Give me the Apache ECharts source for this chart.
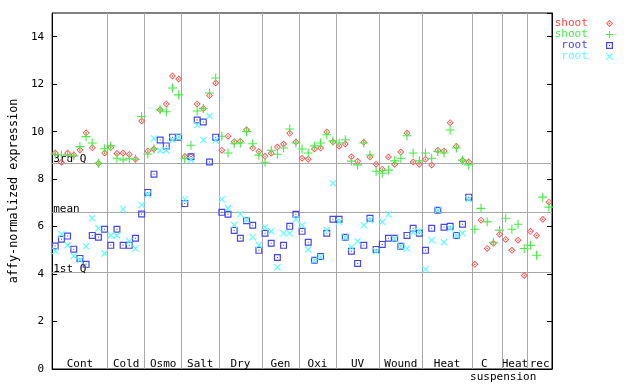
<!DOCTYPE html>
<html><head><meta charset="utf-8">
<script src="https://cdn.jsdelivr.net/npm/echarts@6/dist/echarts.min.js"></script>
<style>html,body{margin:0;padding:0;background:#fff}#c{width:640px;height:384px}</style>
</head><body><div id="c"></div>
<script>
// ---- data ----
const sectionNames = ['Cont','Cold','Osmo','Salt','Dry','Gen','Oxi','UV','Wound','Heat','C suspension','Heat','rec'];
const sectionSizes = [9,6,6,6,7,6,6,7,7,8,5,4,4];
const quartileNames = ['3rd Q','mean','1st Q'];
const quartileValues = [8.69, 6.60, 4.07];
const legendLabels = {shootA:'shoot', shootB:'shoot', rootA:'root', rootB:'root'};

const shootA = [9.10,8.71,9.10,9.02,9.23,9.95,9.32,8.67,9.10,
  9.33,9.08,9.10,9.04,8.84,10.45,
  9.19,9.27,10.92,11.17,12.35,12.22,
  8.95,8.95,11.17,10.98,11.52,12.05,
  9.22,9.81,9.58,9.60,10.08,9.31,9.16,
  8.96,9.09,9.35,9.48,9.93,9.56,
  8.88,8.84,9.27,9.31,9.99,9.56,
  9.39,9.48,8.94,8.75,9.55,8.93,8.63,
  8.42,8.93,8.63,9.14,9.94,8.72,8.63,
  8.84,8.60,9.22,9.19,10.38,9.39,8.80,8.72,
  4.41,6.27,5.08,5.30,5.68,
  5.46,5.00,5.43,3.94,
  5.80,5.63,6.31,7.03];
const shootB = [9.05,9.02,9.02,8.98,9.37,9.79,9.52,8.67,9.28,
  9.40,8.88,8.81,8.88,8.84,10.64,
  9.06,9.27,10.92,10.84,11.84,11.55,
  8.87,9.43,10.87,10.98,11.63,12.26,
  9.81,9.10,9.49,9.52,10.00,9.49,9.01,
  8.71,9.22,9.05,9.31,10.11,9.52,
  9.27,9.10,9.40,9.52,9.87,9.61,
  9.52,9.66,8.76,8.60,9.52,9.02,8.33,
  8.25,8.38,8.77,8.88,9.83,9.10,8.77,
  9.10,8.88,9.16,9.10,10.07,9.31,8.80,8.60,
  5.89,6.77,6.20,5.34,5.85,
  6.35,5.89,6.10,5.08,
  5.21,4.79,7.24,6.82];
const rootA = [5.18,5.47,5.60,5.05,4.66,4.41,5.63,5.55,5.89,
  5.21,5.89,5.21,5.21,5.51,6.53,
  7.44,8.21,9.65,9.40,9.77,9.77,
  6.97,8.94,10.49,10.41,8.72,9.77,
  6.60,6.52,5.84,5.51,6.25,6.06,5.00,
  5.72,5.30,4.70,5.21,6.01,6.52,
  5.80,5.34,4.58,4.74,5.72,6.31,
  6.31,5.55,4.96,4.45,5.21,6.35,5.04,
  5.25,5.51,5.51,5.17,5.63,5.93,5.72,
  5.00,5.93,6.69,5.97,6.01,5.63,6.10,7.24];
const rootB = [4.97,5.68,5.21,4.76,4.59,5.17,6.35,5.93,4.87,
  5.63,5.63,6.73,5.38,5.08,6.91,
  7.35,9.71,9.21,9.21,9.65,9.77,
  7.15,8.81,10.28,9.65,10.66,9.63,
  7.15,6.77,6.07,6.52,6.29,5.55,5.22,
  5.97,5.80,4.29,5.72,5.72,6.31,
  6.06,5.04,4.58,4.72,5.86,7.83,
  6.20,5.55,5.13,5.38,6.06,6.28,4.96,
  6.20,6.52,5.49,5.17,5.08,5.76,5.80,
  4.20,5.42,6.69,5.34,5.93,5.63,5.72,7.15];

// ---- derived ----
const FONT = 'DejaVu Sans Mono';
const sampleIds = shootA.map((_, i) => 'S' + (i + 1));
const bounds = [], centers = [];
let acc = 0;
sectionSizes.forEach((s, k) => { centers.push(acc + s / 2); acc += s; if (k < sectionSizes.length - 1) bounds.push(acc); });
const total = acc;

const COL = {shootA:'#ff4646', shootB:'#44ee44', rootA:'#4646ee', rootB:'#55ffff'};
const SYM = {
  shootA: 'path://M0,-3L3,0L0,3L-3,0Z M0,-2L-2,0L0,2L2,0Z M0,-0.8L0.8,0L0,0.8L-0.8,0Z',
  shootB: 'path://M-0.55,-4.5H0.55V-0.55H4.5V0.55H0.55V4.5H-0.55V0.55H-4.5V-0.55H-0.55Z',
  rootA: 'path://M0,0H7V7H0Z M1.2,1.2V5.8H5.8V1.2Z M3,3H4V4H3Z',
  rootB: 'path://M0,0.8L0.8,0L7,6.2L6.2,7Z M6.2,0L7,0.8L0.8,7L0,6.2Z'
};
const SIZE = {shootA:7, shootB:9, rootA:7, rootB:7};
const seriesData = {shootA, shootB, rootA, rootB};

function sectionLabel(v) {
  const k = centers.findIndex(c => Math.abs(c - v) < 1e-6);
  if (k < 0) return '';
  const name = sectionNames[k];
  const sp = name.indexOf(' ');
  if (sp < 0) return name;
  return '{a|' + name.slice(0, sp) + '}\n{b|' + name.slice(sp + 1) + '}';
}

const scatter = Object.keys(seriesData).map((key, idx) => ({
  name: key, type: 'scatter', data: seriesData[key],
  symbol: SYM[key], symbolSize: SIZE[key],
  itemStyle: {color: COL[key], opacity: 1},
  z: 3 + idx, silent: true
}));

const markData = bounds.map(b => ({xAxis: b, label: {show: false}}))
  .concat(quartileValues.map((v, k) => ({
    yAxis: v,
    label: {show: true, formatter: quartileNames[k], position: 'insideStartTop', distance: [1, -2],
      color: '#000', fontFamily: FONT, fontSize: 11}
  })));

const chart = echarts.init(document.getElementById('c'), null, {renderer: 'canvas'});
chart.setOption({
  animation: false,
  backgroundColor: '#fff',
  grid: {left: 44, right: 88, top: 13, bottom: 15, show: true, borderColor: '#000', borderWidth: 1, backgroundColor: 'transparent'},
  legend: {
    orient: 'vertical', right: 27, top: 18, padding: 0, itemGap: 0, itemWidth: 7, itemHeight: 7,
    align: 'right', selectedMode: false,
    data: Object.keys(seriesData).map(k => ({name: k, icon: SYM[k], itemStyle: {color: COL[k]}, textStyle: {color: COL[k]}})),
    formatter: n => legendLabels[n] + '  ',
    textStyle: {fontFamily: FONT, fontSize: 11, lineHeight: 11}
  },
  xAxis: [
    {type: 'category', data: sampleIds, boundaryGap: true,
      axisLine: {show: true, lineStyle: {color: '#000', width: 1}}, axisTick: {show: false},
      axisLabel: {show: false}, splitLine: {show: false}},
    {type: 'value', min: 0, max: total, position: 'bottom',
      axisLine: {show: false}, axisTick: {show: false}, splitLine: {show: false},
      axisLabel: {show: true, customValues: centers, inside: true, margin: 11, verticalAlign: 'top',
        lineHeight: 13, color: '#000', fontFamily: FONT, fontSize: 11, formatter: sectionLabel,
        rich: {
          a: {fontFamily: FONT, fontSize: 11, lineHeight: 13, color: '#000', padding: [0, 6, 0, 0]},
          b: {fontFamily: FONT, fontSize: 11, lineHeight: 13, color: '#000', padding: [0, 0, 0, 32]}
        }}}
  ],
  yAxis: [
    {type: 'value', min: 0, max: 15, interval: 2,
      axisLine: {show: true, lineStyle: {color: '#000', width: 1}},
      axisTick: {show: true, inside: true, length: 5, lineStyle: {color: '#000'}},
      axisLabel: {showMaxLabel: false, margin: 8, color: '#000', fontFamily: FONT, fontSize: 11},
      splitLine: {show: false},
      name: 'affy-normalized expression', nameLocation: 'middle', nameGap: 26,
      nameTextStyle: {color: '#000', fontFamily: FONT, fontSize: 11.8}},
    {type: 'value', min: 0, max: 15, interval: 2, position: 'right',
      axisLine: {show: true, lineStyle: {color: '#000', width: 1}},
      axisTick: {show: true, inside: true, length: 5, lineStyle: {color: '#000'}},
      axisLabel: {show: false}, splitLine: {show: false}}
  ],
  series: scatter.concat([{
    type: 'scatter', xAxisIndex: 1, yAxisIndex: 0, data: [], silent: true,
    markLine: {silent: true, symbol: ['none', 'none'], z: 1, animation: false,
      lineStyle: {color: '#a8a8a8', width: 1, type: 'solid'},
      label: {show: false}, emphasis: {disabled: true},
      data: markData}
  }])
});
</script></body></html>
